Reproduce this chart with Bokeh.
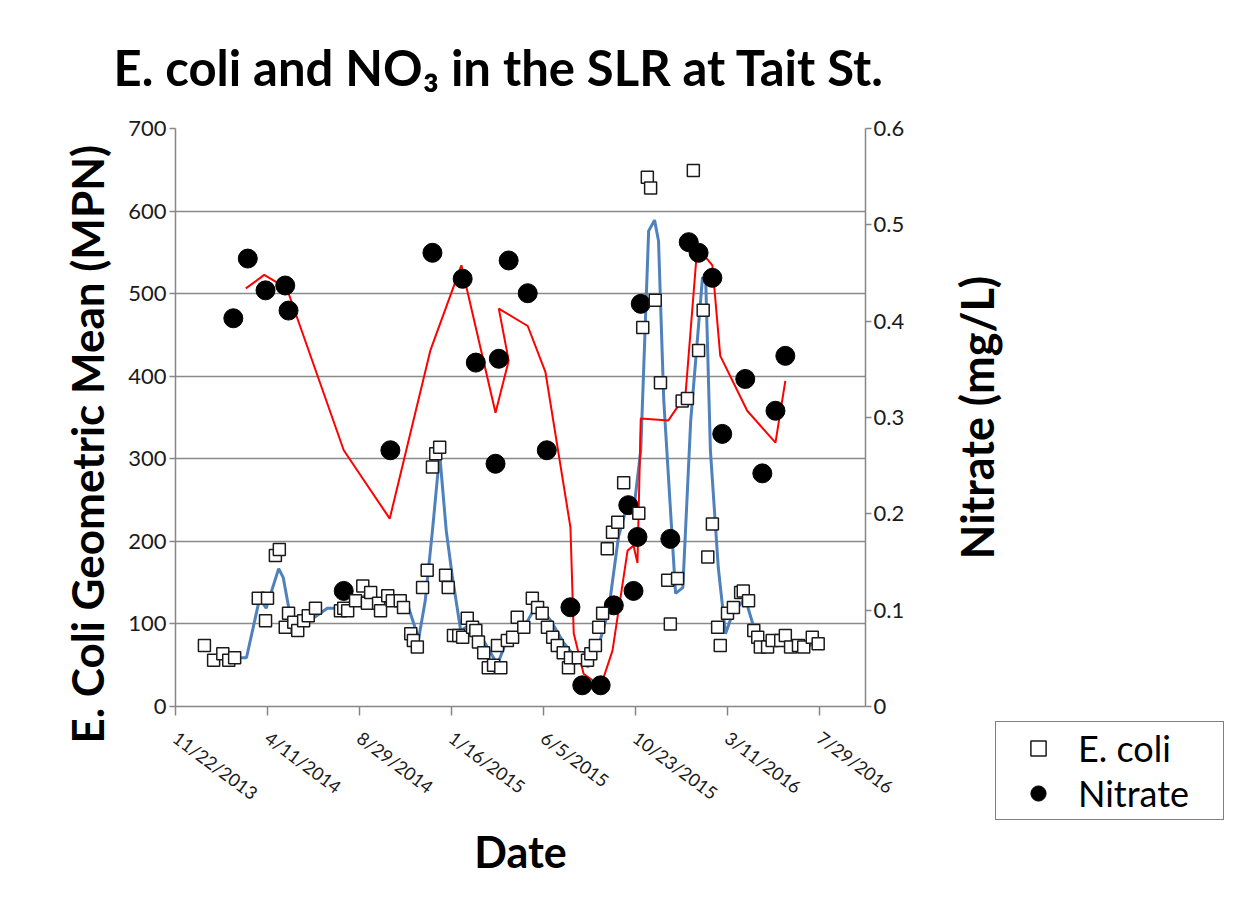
import math
from bokeh.plotting import figure
from bokeh.layouts import row
from bokeh.models import (Range1d, LinearAxis, FixedTicker, Legend, LegendItem, Title,
                          NumeralTickFormatter)
from bokeh.core.properties import value
from bokeh.embed import file_html
from bokeh.resources import INLINE

# ---- data (x values are Excel date serials) ----
tick_dates = [41600, 41740, 41880, 42020, 42160, 42300, 42440, 42580]
tick_labels = ["11/22/2013", "4/11/2014", "8/29/2014", "1/16/2015",
               "6/5/2015", "10/23/2015", "3/11/2016", "7/29/2016"]

ecoli_date = [41644, 41658, 41672, 41681, 41690, 41726, 41737, 41740, 41752, 41758,
              41767, 41772, 41780, 41786, 41795, 41802, 41813, 41851, 41856, 41862,
              41874, 41885, 41892, 41897, 41909, 41912, 41923, 41930, 41942, 41947,
              41958, 41962, 41968, 41976, 41983, 41991, 41996, 42002, 42011, 42015,
              42023, 42031, 42037, 42044, 42052, 42057, 42061, 42069, 42076, 42084,
              42090, 42095, 42105, 42113, 42120, 42130, 42143, 42151, 42158, 42166,
              42174, 42181, 42190, 42198, 42201, 42213, 42227, 42232, 42239, 42244,
              42250, 42257, 42265, 42273, 42282, 42305, 42311, 42318, 42323, 42330,
              42338, 42349, 42353, 42364, 42371, 42379, 42388, 42396, 42403, 42410,
              42417, 42425, 42429, 42440, 42449, 42460, 42464, 42472, 42480, 42486,
              42490, 42501, 42508, 42521, 42528, 42536, 42548, 42556, 42569, 42578]
ecoli = [74, 56, 64, 56, 59, 131, 104, 131, 183, 190,
         96, 113, 102, 92, 104, 110, 119, 116, 119, 116,
         128, 146, 125, 138, 125, 116, 134, 128, 128, 120,
         88, 80, 72, 144, 165, 290, 306, 314, 159, 144,
         86, 86, 84, 107, 96, 92, 78, 65, 47, 50,
         74, 47, 80, 84, 108, 96, 131, 120, 113, 96,
         84, 74, 65, 47, 59, 59, 56, 64, 74, 96,
         113, 191, 211, 223, 271, 234, 459, 641, 628, 492,
         392, 153, 100, 155, 370, 373, 649, 431, 480, 181,
         221, 96, 74, 113, 120, 138, 140, 128, 92, 84,
         72, 72, 80, 80, 86, 72, 74, 72, 84, 76]

nitrate_date = [41688, 41710, 41737, 41767, 41772, 41856, 41927, 41991, 42037, 42057,
                42087, 42092, 42107, 42136, 42165, 42201, 42219, 42247, 42267, 42289,
                42297, 42303, 42308, 42353, 42381, 42396, 42417, 42432, 42467, 42493,
                42513, 42528]
nitrate = [0.403, 0.465, 0.432, 0.437, 0.411, 0.120, 0.266, 0.471, 0.444, 0.357,
           0.252, 0.361, 0.463, 0.429, 0.266, 0.103, 0.022, 0.022, 0.105, 0.209,
           0.120, 0.176, 0.418, 0.174, 0.482, 0.471, 0.445, 0.283, 0.340, 0.242,
           0.307, 0.364]

# moving-average trend lines as drawn in the reference
ecoli_trend_date = [41672, 41687, 41708, 41728, 41738, 41757, 41764, 41775, 41793, 41810,
                    41831, 41856, 41874, 41892, 41909, 41930, 41942, 41955, 41970, 41980,
                    41991, 42002, 42012, 42021, 42034, 42053, 42070, 42090, 42102, 42114,
                    42136, 42151, 42171, 42190, 42212, 42228, 42244, 42259, 42274, 42288,
                    42297, 42308, 42320, 42329, 42335, 42343, 42361, 42372, 42384, 42402,
                    42407, 42414, 42426, 42437, 42448, 42467, 42480, 42495, 42510, 42525,
                    42540, 42556, 42571, 42581]
ecoli_trend = [64, 59, 59, 131, 119, 167, 156, 108, 98, 107,
               119, 119, 125, 137, 128, 125, 128, 119, 82, 128,
               213, 306, 213, 159, 92, 101, 78, 51, 76, 84,
               104, 125, 104, 78, 56, 48, 74, 116, 205, 246,
               236, 310, 576, 589, 564, 371, 137, 144, 346, 520,
               512, 310, 168, 88, 113, 131, 96, 76, 74, 80,
               74, 71, 76, 80]

nitrate_trend_date = [41707, 41735, 41767, 41772, 41856, 41926, 41988, 42035, 42087, 42107,
                      42092, 42136, 42163, 42201, 42206, 42221, 42247, 42265, 42288, 42297,
                      42303, 42308, 42350, 42376, 42394, 42417, 42429, 42470, 42513, 42528]
nitrate_trend = [0.434, 0.448, 0.435, 0.429, 0.266, 0.195, 0.370, 0.458, 0.305, 0.359,
                 0.413, 0.395, 0.347, 0.186, 0.076, 0.034, 0.021, 0.058, 0.162, 0.167,
                 0.149, 0.299, 0.297, 0.323, 0.477, 0.458, 0.364, 0.307, 0.274, 0.338]

# ---- main figure ----
FONT = "Lato"
GREY = "#868686"
W1, H = 945, 896
NB = "\u00a0"

p = figure(width=W1, height=H, output_backend="svg", toolbar_location=None,
           x_range=Range1d(41600, 42650), y_range=Range1d(0, 700),
           min_border_left=175, min_border_right=80, min_border_top=128,
           min_border_bottom=190)
p.extra_y_ranges = {"nit": Range1d(0, 0.6)}
p.outline_line_color = None
p.background_fill_color = "white"
p.border_fill_color = "white"

p.title = Title(text="E. coli and NO\u2083 in the SLR at Tait St.", align="left",
                offset=-62, standoff=66, vertical_align="bottom", text_font=FONT,
                text_font_style="bold", text_font_size="49px", text_color="black")

p.xgrid.visible = False
p.ygrid.grid_line_color = "#8a8a8a"
p.ygrid.grid_line_width = 1.5
p.ygrid.ticker = FixedTicker(ticks=[0, 100, 200, 300, 400, 500, 600, 700])

ya = p.yaxis[0]
ya.ticker = FixedTicker(ticks=[0, 100, 200, 300, 400, 500, 600, 700])
ya.axis_label = "E. Coli Geometric Mean (MPN)" + NB * 5
ya.axis_label_standoff = 12

xa = p.xaxis[0]
xa.ticker = FixedTicker(ticks=tick_dates)
xa.major_label_overrides = {d: t for d, t in zip(tick_dates, tick_labels)}
xa.major_label_orientation = -0.64
xa.major_label_standoff = 20
xa.axis_label = "Date"
xa.axis_label_standoff = 10

ra = LinearAxis(y_range_name="nit", ticker=FixedTicker(ticks=[0, 0.1, 0.2, 0.3, 0.4, 0.5, 0.6]),
                formatter=NumeralTickFormatter(format="0.[0]"))
p.add_layout(ra, "right")

for ax in (xa, ya, ra):
    ax.axis_line_color = GREY
    ax.axis_line_width = 1.5
    ax.major_tick_line_color = GREY
    ax.major_tick_line_width = 1.5
    ax.major_tick_in = 0
    ax.major_tick_out = 6
    ax.minor_tick_line_color = None
    ax.major_label_text_font = FONT
    ax.major_label_text_color = "#1a1a1a"
    ax.axis_label_text_font = FONT
    ax.axis_label_text_font_style = "bold"
    ax.axis_label_text_color = "black"
ya.axis_label_text_font_size = "44px"
xa.axis_label_text_font_size = "43px"
xa.major_tick_out = 9
xa.major_label_text_font_size = "18px"
ya.major_label_text_font_size = "22px"
ra.major_label_text_font_size = "22px"
ya.major_label_standoff = 3
ra.major_label_standoff = 2

r_et = p.line(ecoli_trend_date, ecoli_trend, line_color="#4f81bd", line_width=3)
r_nt = p.line(nitrate_trend_date, nitrate_trend, line_color="#ff0000", line_width=2,
              y_range_name="nit")
r_ni = p.scatter(nitrate_date, nitrate, marker="circle", size=19, fill_color="black",
                 line_color="black", y_range_name="nit")
r_ec = p.scatter(ecoli_date, ecoli, marker="square", size=12, fill_color="white",
                 line_color="#1a1a1a", line_width=1.5)

# ---- side figure: secondary axis title (frame) + legend (right panel) ----
QF = 58
q = figure(frame_width=QF, height=H, output_backend="svg", toolbar_location=None,
           x_range=Range1d(0, QF), y_range=Range1d(0, 578),
           x_axis_location=None, y_axis_location=None,
           min_border_left=0, min_border_right=0, min_border_top=0, min_border_bottom=0)
q.outline_line_color = None
q.grid.visible = False
q.background_fill_color = "white"
q.border_fill_color = "white"
q.text(x=[31], y=[289], text=["Nitrate (mg/L)"], angle=math.pi / 2,
       text_font=value(FONT), text_font_style="bold", text_font_size="45px",
       text_align="center", text_baseline="middle", text_color="black")

# legend swatches: the same series, out of this panel's view range
d_ec = q.scatter(ecoli_date, ecoli, marker="square", size=12, fill_color="white",
                 line_color="#1a1a1a", line_width=1.5)
d_ni = q.scatter(nitrate_date, nitrate, marker="circle", size=19, fill_color="black",
                 line_color="black")
leg = Legend(items=[LegendItem(label="E. coli", renderers=[d_ec]),
                    LegendItem(label="Nitrate", renderers=[d_ni])],
             location=(-8, -114))
leg.border_line_color = "black"
leg.border_line_width = 1.5
leg.background_fill_color = "white"
leg.background_fill_alpha = 1
leg.label_text_font = FONT
leg.label_text_font_size = "36px"
leg.label_text_color = "black"
leg.glyph_width = 76
leg.glyph_height = 38
leg.label_height = 38
leg.label_width = 141
leg.spacing = 1
leg.padding = 4
leg.margin = 0
leg.label_standoff = 2
q.add_layout(leg, "right")

layout = row(p, q)
open("out.html", "w").write(file_html(layout, INLINE))
